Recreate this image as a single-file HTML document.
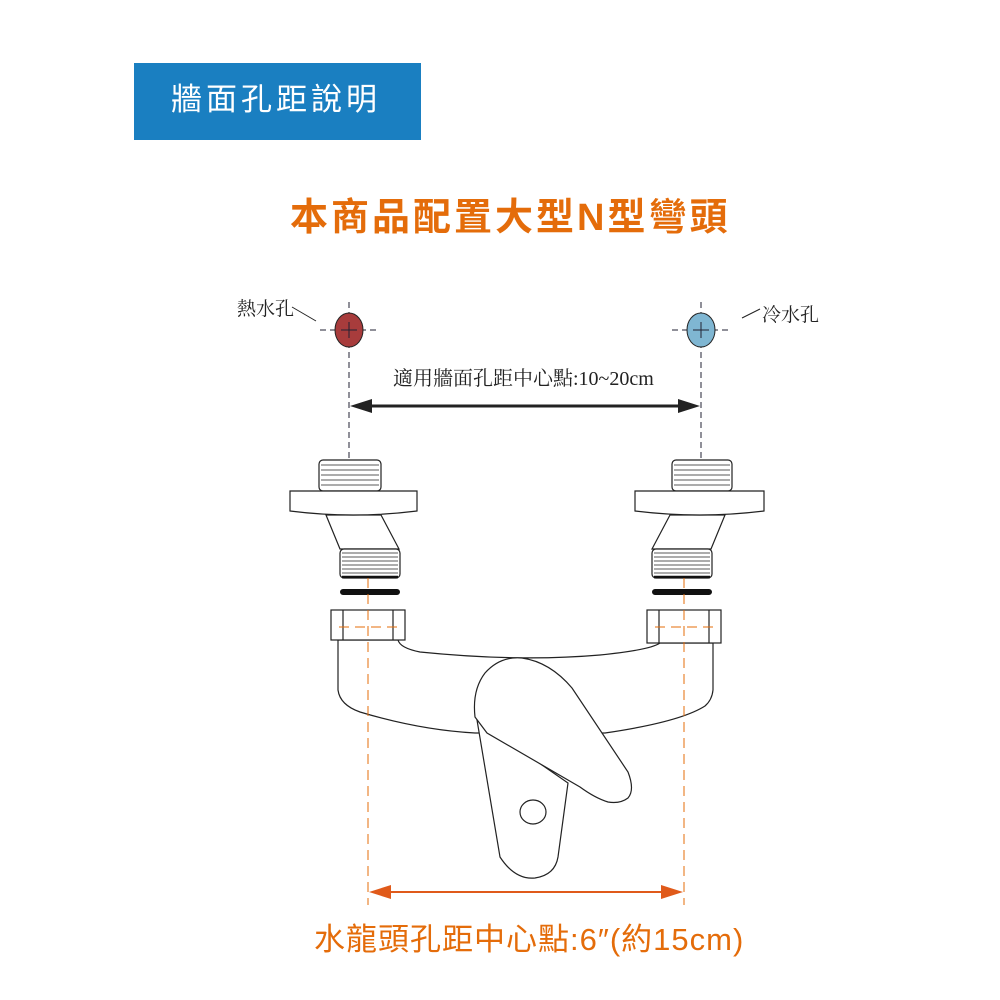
<!DOCTYPE html>
<html><head><meta charset="utf-8"><style>
body{margin:0;width:1000px;height:1000px;background:#fff;position:relative;overflow:hidden;font-family:"Liberation Sans","Noto Sans CJK TC",sans-serif}
.t{position:absolute;white-space:nowrap}
</style></head><body>
<div class="t" style="left:134px;top:63px;width:287px;height:77px;background:#1a7fc1"></div>
<div class="t" style="left:171px;top:80px;font-size:31px;color:#fff;line-height:40px;letter-spacing:4px">牆面孔距說明</div>
<div class="t" style="left:290px;top:194px;font-size:38px;font-weight:bold;color:#e46c0a;line-height:48px;letter-spacing:3px">本商品配置大型N型彎頭</div>
<svg width="1000" height="1000" style="position:absolute;left:0;top:0">
<g stroke="#223" stroke-width="1" stroke-dasharray="6,4" fill="none">
<line x1="349" y1="302" x2="349" y2="490"/><line x1="701" y1="302" x2="701" y2="490"/>
<line x1="320" y1="330" x2="378" y2="330"/><line x1="672" y1="330" x2="730" y2="330"/>
</g>
<ellipse cx="349" cy="330" rx="14" ry="17" fill="#a83c3c" stroke="#222"/>
<ellipse cx="701" cy="330" rx="14" ry="17" fill="#7fb6d2" stroke="#222"/>
<path d="M349 322V338M341 330H357M701 322V338M693 330H709" stroke="#223" stroke-width="1"/>
<path d="M292 307L316 321M742 318L760 309" stroke="#222" stroke-width="1"/>
<line x1="365" y1="406" x2="686" y2="406" stroke="#222" stroke-width="3"/>
<path d="M350 406L372 399L372 413Z M700 406L678 399L678 413Z" fill="#222"/>
<g fill="#fff" stroke="#222" stroke-width="1.2">
<path d="M326 515L340 549H399L381 515Z"/>
<rect x="319" y="460" width="62" height="31" rx="4"/>
<path d="M290 491H417V511Q353 519 290 511Z"/>
<rect x="340" y="549" width="60" height="29" rx="4"/>
<path d="M670 515L652 549H711L725 515Z"/>
<rect x="672" y="460" width="60" height="31" rx="4"/>
<path d="M635 491H764V511Q700 519 635 511Z"/>
<rect x="652" y="549" width="60" height="29" rx="4"/>
<path d="M338 640V690Q340 705 360 712Q420 730 475 733L605 733Q680 722 705 706Q712 700 713 690V643H660Q650 650 600 655Q519 662 420 652Q400 648 398 640Z"/>
<rect x="331" y="610" width="74" height="30"/>
<rect x="647" y="610" width="74" height="33"/>
<path d="M477 720L500 857Q515 880 535 878Q555 875 558 857L568 783Z"/>
<path d="M475 717Q472 690 485 673Q500 656 522 658Q550 662 572 688L628 772Q635 790 628 798Q620 804 608 802Q595 798 580 787L487 733Z"/>
</g>
<path d="M343 610V640M393 610V640M659 610V643M709 610V643" stroke="#222" stroke-width="1.2"/>
<g stroke="#222" stroke-width="0.8">
<path d="M321 465H379M321 470H379M321 475H379M321 480H379M321 485H379M674 465H730M674 470H730M674 475H730M674 480H730M674 485H730"/>
<path d="M342 553H398M342 557H398M342 561H398M342 565H398M342 569H398M342 573H398M654 553H710M654 557H710M654 561H710M654 565H710M654 569H710M654 573H710"/>
</g>
<path d="M342 577H398M654 577H710" stroke="#111" stroke-width="2.5"/>
<path d="M343 592H397M655 592H709" stroke="#111" stroke-width="6" stroke-linecap="round"/>
<ellipse cx="533" cy="812" rx="13" ry="12" fill="#fff" stroke="#222" stroke-width="1.2"/>
<g stroke="#e46c0a" stroke-width="1" stroke-dasharray="10,6" fill="none">
<line x1="368" y1="578" x2="368" y2="905"/><line x1="684" y1="578" x2="684" y2="905"/>
<line x1="339" y1="627" x2="398" y2="627"/><line x1="655" y1="627" x2="714" y2="627"/>
</g>
<line x1="385" y1="892" x2="668" y2="892" stroke="#e05a1a" stroke-width="2"/>
<path d="M369 892L391 885L391 899Z M683 892L661 885L661 899Z" fill="#e05a1a"/>
</svg>
<div class="t" style="left:237px;top:294px;font-size:19px;color:#222;font-family:'Liberation Serif','Noto Serif CJK SC',serif">熱水孔</div>
<div class="t" style="left:762px;top:300px;font-size:19px;color:#222;font-family:'Liberation Serif','Noto Serif CJK SC',serif">冷水孔</div>
<div class="t" style="left:393px;top:362px;font-size:20px;color:#222;font-family:'Liberation Serif','Noto Serif CJK SC',serif">適用牆面孔距中心點:10~20cm</div>
<div class="t" style="left:314px;top:920px;font-size:31px;color:#e46c0a;line-height:40px;letter-spacing:1px">水龍頭孔距中心點:6″(約15cm)</div>
</body></html>
